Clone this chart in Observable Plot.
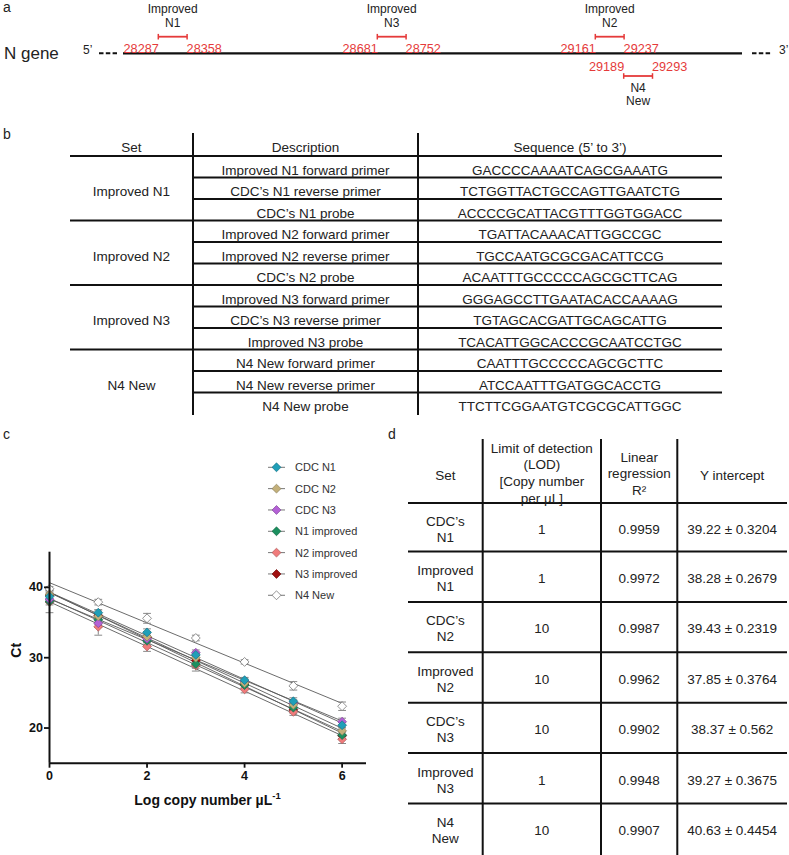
<!DOCTYPE html>
<html><head><meta charset="utf-8">
<script src="https://cdn.jsdelivr.net/npm/d3@7"></script>
<script src="https://cdn.jsdelivr.net/npm/@observablehq/plot@0.6"></script>
<style>
body{margin:0;background:#fff;}
#page{position:relative;width:789px;height:855px;overflow:hidden;font-family:"Liberation Sans",Arial,sans-serif;}
.abs{position:absolute;left:0;top:0;}
</style></head><body><div id="page"></div>
<script>
// ---------- Panel a data ----------
const ampliconNames = ["Improved N1", "Improved N3", "Improved N2", "N4 New"];
const ampliconStart = [28287, 28681, 29161, 29189];
const ampliconEnd = [28358, 28752, 29237, 29293];
// ---------- Panel b data ----------
const primerSets = ["Improved N1", "Improved N2", "Improved N3", "N4 New"];
const primerDescriptions = [
  "Improved N1 forward primer", "CDC\u2019s N1 reverse primer", "CDC\u2019s N1 probe",
  "Improved N2 forward primer", "Improved N2 reverse primer", "CDC\u2019s N2 probe",
  "Improved N3 forward primer", "CDC\u2019s N3 reverse primer", "Improved N3 probe",
  "N4 New forward primer", "N4 New reverse primer", "N4 New probe"];
const primerSequences = [
  "GACCCCAAAATCAGCGAAATG", "TCTGGTTACTGCCAGTTGAATCTG", "ACCCCGCATTACGTTTGGTGGACC",
  "TGATTACAAACATTGGCCGC", "TGCCAATGCGCGACATTCCG", "ACAATTTGCCCCCAGCGCTTCAG",
  "GGGAGCCTTGAATACACCAAAAG", "TGTAGCACGATTGCAGCATTG", "TCACATTGGCACCCGCAATCCTGC",
  "CAATTTGCCCCCAGCGCTTC", "ATCCAATTTGATGGCACCTG", "TTCTTCGGAATGTCGCGCATTGGC"];
// ---------- Panel c data ----------
const seriesNames = ["CDC N1", "CDC N2", "CDC N3", "N1 improved", "N2 improved", "N3 improved", "N4 New"];
const seriesColors = ["#1f9fb8", "#c3b07a", "#b461d6", "#1b8f5f", "#f07b7b", "#a01010", "#ffffff"];
const logCopies = [0, 1, 2, 3, 4, 5, 6];
const ctCDCN1 = [38.7, 36.4, 33.6, 30.4, 26.8, 23.8, 20.4];
const ctCDCN2 = [39.0, 35.9, 33.0, 30.0, 26.4, 23.3, 19.6];
const ctCDCN3 = [38.3, 34.9, 32.7, 30.7, 26.7, 23.5, 20.9];
const ctN1imp = [38.0, 35.4, 32.4, 29.1, 26.1, 22.9, 19.0];
const ctN2imp = [37.9, 34.4, 31.6, 28.9, 25.5, 22.3, 18.4];
const ctN3imp = [38.9, 36.0, 32.9, 29.6, 26.2, 22.6, 18.9];
const ctN4new = [39.8, 37.9, 35.6, 32.8, 29.4, 26.0, 23.1];
const sdCDCN1 = [0.3, 0.4, 0.5, 0.4, 0.4, 0.5, 0.4];
const sdCDCN2 = [0.3, 0.5, 0.5, 0.5, 0.4, 0.5, 0.5];
const sdCDCN3 = [0.4, 0.6, 0.5, 0.4, 0.4, 0.5, 0.5];
const sdN1imp = [1.6, 0.7, 0.6, 0.6, 0.4, 0.4, 0.5];
const sdN2imp = [0.4, 1.2, 0.7, 0.8, 0.5, 0.5, 0.6];
const sdN3imp = [0.6, 0.8, 0.8, 0.7, 0.5, 0.5, 0.5];
const sdN4new = [0.3, 0.4, 0.7, 0.4, 0.3, 0.6, 0.6];
const xTicks = [0, 2, 4, 6];
const yTicks = [20, 30, 40];
// ---------- Panel d data ----------
const lodSets = ["CDC\u2019s N1", "Improved N1", "CDC\u2019s N2", "Improved N2", "CDC\u2019s N3", "Improved N3", "N4 New"];
const lodValues = ["1", "1", "10", "10", "10", "1", "10"];
const r2Values = ["0.9959", "0.9972", "0.9987", "0.9962", "0.9902", "0.9948", "0.9907"];
const interceptValues = [39.22, 38.28, 39.43, 37.85, 38.37, 39.27, 40.63];
const interceptSE = ["0.3204", "0.2679", "0.2319", "0.3764", "0.562", "0.3675", "0.4454"];

// ================= drawing =================
const FONT = '"Liberation Sans", Arial, sans-serif';
const page = d3.select("#page");
const svg = page.append("svg").attr("class", "abs").attr("width", 789).attr("height", 855)
  .attr("font-family", FONT).attr("fill", "#222");
function txt(x, y, s, size, anchor = "middle", extra = {}) {
  const t = svg.append("text").attr("x", x).attr("y", y).attr("font-size", size)
    .attr("text-anchor", anchor).text(s);
  for (const k in extra) t.attr(k, extra[k]);
  return t;
}
function line(x1, y1, x2, y2, w = 2, color = "#111", dash = null) {
  const l = svg.append("line").attr("x1", x1).attr("y1", y1).attr("x2", x2).attr("y2", y2)
    .attr("stroke", color).attr("stroke-width", w);
  if (dash) l.attr("stroke-dasharray", dash);
  return l;
}
// panel letters
[["a", 3, 12], ["b", 3, 139], ["c", 3, 439], ["d", 388, 439]].forEach(([s, x, y]) => txt(x, y, s, 14, "start"));

// ---------- Panel a (schematic) ----------
const red = "#e53a3a";
txt(4, 58.7, "N gene", 17, "start");
txt(83, 54, "5\u2019", 12, "start");
txt(779, 54, "3\u2019", 12, "start");
line(99, 53.3, 117, 53.3, 2, "#111", "4.5,2.3");
line(752, 53.3, 771, 53.3, 2, "#111", "4.5,2.3");
line(123, 53.3, 742, 53.3, 2.2);
const slotX = [158.3, 377.3, 595.3, 623.7]; // schematic (not to scale) slots
const slotBelow = [false, false, false, true];
ampliconNames.forEach((name, i) => {
  const x0 = slotX[i], x1 = slotX[i] + 28.8, below = slotBelow[i];
  const by = below ? 76 : 36.7;
  line(x0, by, x1, by, 1.8, red);
  line(x0, by - 2.8, x0, by + 2.8, 1.5, red);
  line(x1, by - 2.8, x1, by + 2.8, 1.5, red);
  const ny = below ? 71 : 52.6;
  txt(x0 + 0.5, ny, String(ampliconStart[i]), 12.7, "end", { fill: red });
  txt(x1 - 0.5, ny, String(ampliconEnd[i]), 12.7, "start", { fill: red });
  const parts = name.split(" ");
  const cx = (x0 + x1) / 2;
  if (below) { txt(cx, 91.8, parts[0], 12); txt(cx, 105.4, parts[1], 12); }
  else { txt(cx, 13.3, parts[0], 12); txt(cx, 27.3, parts[1], 12); }
});

// ---------- Panel b (table) ----------
{
  const x0 = 70, x1 = 193, x2 = 418, x3 = 722, head = 156, rh = 21.5, fs = 13.5;
  line(x1, 133, x1, 415); line(x2, 133, x2, 415);
  line(x0, head, x3, head);
  txt((x0 + x1) / 2, 152, "Set", fs);
  txt((x1 + x2) / 2, 152, "Description", fs);
  txt((x2 + x3) / 2, 152, "Sequence (5\u2019 to 3\u2019)", fs);
  primerDescriptions.forEach((d, i) => {
    const yb = head + (i + 1) * rh;
    if (i < primerDescriptions.length - 1) line(i % 3 === 2 ? x0 : x1, yb, x3, yb, i % 3 === 2 ? 2.2 : 1.8);
    txt((x1 + x2) / 2, yb - 2.7, d, fs);
    txt((x2 + x3) / 2, yb - 2.7, primerSequences[i], fs);
  });
  primerSets.forEach((s, g) => {
    const yb = head + (g * 3 + 2) * rh;
    txt((x0 + x1) / 2, yb - 2.7, s, fs);
  });
}

// ---------- Panel d (table) ----------
{
  const xs = [408, 482.7, 601, 677.3, 787], fs = 13.5;
  const top = 439, headB = 503, rh = 50.4, first = 551.5;
  [1, 2, 3].forEach(k => line(xs[k], top, xs[k], 855));
  line(xs[0], headB, xs[4], headB);
  const cx = k => (xs[k] + xs[k + 1]) / 2;
  txt(cx(0), 480, "Set", fs);
  ["Limit of detection", "(LOD)", "[Copy number", "per \u00b5L]"].forEach((s, j) => txt(cx(1), 452.5 + j * 16.7, s, fs));
  ["Linear", "regression", "R\u00b2"].forEach((s, j) => txt(cx(2), 461.5 + j * 16.7, s, fs));
  txt(cx(3), 480, "Y intercept", fs);
  lodSets.forEach((s, i) => {
    const t = i === 0 ? headB : first + (i - 1) * rh;
    const b = i === 0 ? first : t + rh;
    if (i < lodSets.length - 1) line(xs[0], b, xs[4], b);
    const m = (t + b) / 2 + 1.5;
    const parts = s.split(" ");
    txt(cx(0), m - 8 + 4.8, parts[0], fs);
    txt(cx(0), m + 8 + 4.8, parts[1], fs);
    txt(cx(1), m + 4.8, lodValues[i], fs);
    txt(cx(2), m + 4.8, r2Values[i], fs);
    txt(cx(3), m + 4.8, `${interceptValues[i].toFixed(2)} \u00b1 ${interceptSE[i]}`, fs);
  });
}

// ---------- Panel c legend + x label ----------
const strokeOf = (c, i) => i === 6 ? "#666" : d3.color(c).darker(0.9).formatHex();
seriesNames.forEach((s, i) => {
  const y = 467.3 + i * 21.33;
  line(268, y, 285, y, 1, "#777");
  svg.append("path").attr("d", d3.symbol(d3.symbolDiamond2, Math.PI * 16)())
    .attr("transform", `translate(276.5,${y})`).attr("fill", seriesColors[i])
    .attr("stroke", strokeOf(seriesColors[i], i)).attr("stroke-width", 0.7);
  txt(295, y + 3.9, s, 11, "start", { fill: "#333" });
});
{
  const t = txt(207.5, 805, "Log copy number \u00b5L", 14, "middle", { "font-weight": "bold", fill: "#111" });
  t.append("tspan").attr("dy", -6).attr("font-size", 9.5).text("-1");
}

// ---------- Panel c chart (Observable Plot) ----------
const ctValues = [ctCDCN1, ctCDCN2, ctCDCN3, ctN1imp, ctN2imp, ctN3imp, ctN4new];
const ctSD = [sdCDCN1, sdCDCN2, sdCDCN3, sdN1imp, sdN2imp, sdN3imp, sdN4new];
const rows = seriesNames.flatMap((s, i) => logCopies.map((x, j) => ({ series: s, idx: i, x, ct: ctValues[i][j], sd: ctSD[i][j] })));
const caps = rows.flatMap(d => [{ ...d, yc: d.ct - d.sd }, { ...d, yc: d.ct + d.sd }]);
const dotMarks = seriesNames.map((s, i) => Plot.dot(rows.filter(d => d.series === s), {
  x: "x", y: "ct", symbol: "diamond2", r: 4, fill: seriesColors[i],
  stroke: strokeOf(seriesColors[i], i), strokeWidth: 0.7
})).reverse();

const chart = Plot.plot({
  width: 400, height: 310,
  marginLeft: 49, marginRight: 34, marginTop: 31.7, marginBottom: 67.3,
  x: { domain: [0, 6.5] },
  y: { domain: [15, 45] },
  style: { fontFamily: FONT, fontSize: "12.5px", background: "transparent", overflow: "visible", color: "#111" },
  marks: [
    Plot.linearRegressionY(rows, { x: "x", y: "ct", z: "series", stroke: "#5a5a5a", strokeWidth: 0.9, ci: 0 }),
    Plot.ruleX(rows, { x: "x", y1: d => d.ct - d.sd, y2: d => d.ct + d.sd, stroke: "#888", strokeWidth: 1 }),
    Plot.link(caps, { x1: d => d.x - 0.08, x2: d => d.x + 0.08, y1: "yc", y2: "yc", stroke: "#888", strokeWidth: 1 }),
    ...dotMarks,
    Plot.ruleX([0], { y1: 15, y2: 45, stroke: "#111", strokeWidth: 2 }),
    Plot.ruleY([15], { x1: 0, x2: 6.5, stroke: "#111", strokeWidth: 2 }),
    Plot.axisY({ ticks: yTicks, tickFormat: d => String(d), tickSize: 5, tickPadding: 1.5, fontWeight: "bold", fontSize: 12.5, strokeWidth: 1.8, label: null }),
    Plot.axisX({ ticks: xTicks, tickFormat: d => String(d), tickSize: 5, tickPadding: 3, fontWeight: "bold", fontSize: 12.5, strokeWidth: 1.8, label: null }),
    Plot.text(["Ct"], { frameAnchor: "left", dx: -33, rotate: -90, fontWeight: "bold", fontSize: 14, fill: "#111" })
  ]
});
chart.setAttribute("class", "abs");
chart.style.top = "520px";
chart.style.left = "0px";
document.getElementById("page").appendChild(chart);
</script></body></html>
